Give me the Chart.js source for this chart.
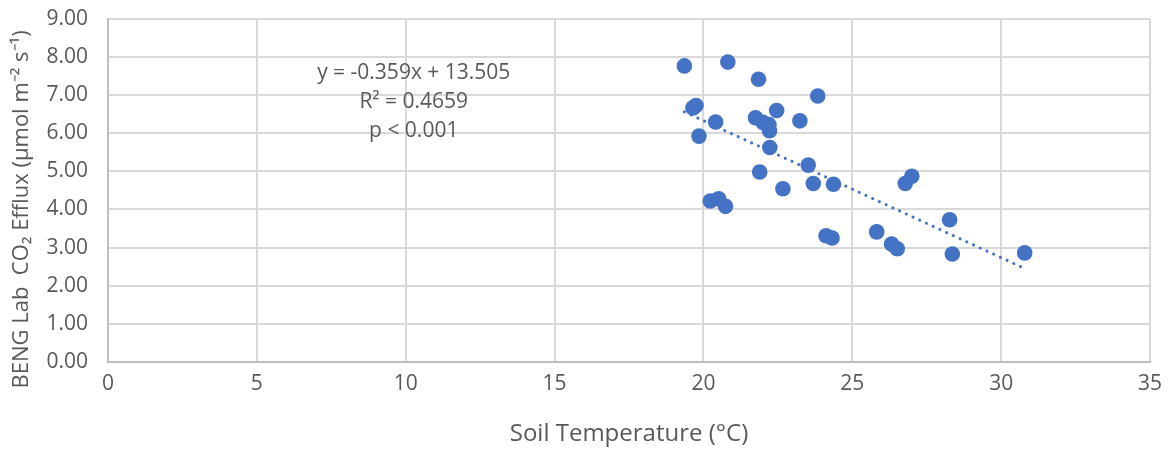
<!DOCTYPE html>
<html>
<head>
<meta charset="utf-8">
<script src="https://cdn.jsdelivr.net/npm/chart.js@4.4.1/dist/chart.umd.min.js"></script>
<style>
  html, body { margin: 0; padding: 0; background: #fff; overflow: hidden; }
  #wrap { width: 1171px; height: 450px; position: relative; overflow: hidden; }
  /* chart.js keeps ~14px more above the plot than Excel does, so pull the canvas up */
  #chart { position: absolute; left: 0; top: -14px; }
</style>
</head>
<body>
<div id="wrap"><canvas id="chart" width="1171" height="464"></canvas></div>
<script>
const soilTemp = [19.36, 20.82, 21.85, 23.84, 19.65, 19.75, 22.46, 20.41, 21.75, 22.0, 22.2, 22.22,
  23.24, 19.85, 22.23, 23.52, 21.89, 22.67, 23.69, 24.37, 27.0, 26.78, 20.23, 20.51, 20.74, 28.27,
  24.12, 24.32, 25.82, 26.32, 26.51, 28.36, 30.79];
const co2Efflux = [7.76, 7.86, 7.41, 6.97, 6.66, 6.72, 6.59, 6.29, 6.40, 6.28, 6.22, 6.06,
  6.32, 5.92, 5.62, 5.16, 4.98, 4.54, 4.68, 4.66, 4.87, 4.68, 4.22, 4.28, 4.08, 3.73,
  3.31, 3.25, 3.41, 3.09, 2.97, 2.83, 2.86];
const slope = -0.359;
const intercept = 13.505;
const labelLines = ['y = -0.359x + 13.505', 'R\u00B2 = 0.4659', 'p < 0.001'];
const yTitle = 'BENG Lab  CO\u2082 Efflux (\u00B5mol m\u207B\u00B2 s\u207B\u00B9)';

const points = soilTemp.map((x, i) => ({ x: x, y: co2Efflux[i] }));
const xMin = Math.min(...soilTemp);
const xMax = Math.max(...soilTemp);
const trend = [
  { x: xMin, y: slope * xMin + intercept },
  { x: xMax, y: slope * xMax + intercept }
];

const FONT = '"Open Sans", "Liberation Sans", sans-serif';
const GREY = '#595959';

// equation block + y axis title (Excel puts it a bit below the plot centre)
const extraText = {
  id: 'extraText',
  afterDraw(chart) {
    const ctx = chart.ctx;
    const xs = chart.scales.x, ys = chart.scales.y;
    ctx.save();
    ctx.font = '21px ' + FONT;
    ctx.fillStyle = GREY;
    ctx.textAlign = 'center';
    ctx.textBaseline = 'middle';
    const cx = xs.getPixelForValue(10.27);
    labelLines.forEach((t, i) => {
      ctx.fillText(t, cx, ys.getPixelForValue(7.57 - i * 0.76));
    });

    ctx.font = '22px ' + FONT;
    ctx.translate(22, ys.getPixelForValue(4.0));
    ctx.rotate(-Math.PI / 2);
    ctx.fillText(yTitle, 0, 0);
    ctx.restore();
  }
};

new Chart(document.getElementById('chart'), {
  type: 'scatter',
  data: {
    datasets: [
      {
        label: 'CO2 Efflux',
        data: points,
        backgroundColor: '#4472C4',
        borderWidth: 0,
        pointRadius: 7.8,
        pointHoverRadius: 7.8,
        order: 1
      },
      {
        label: 'Trend',
        type: 'line',
        data: trend,
        borderColor: '#4472C4',
        borderWidth: 3,
        borderDash: [0.1, 7.3],
        borderCapStyle: 'round',
        pointRadius: 0,
        fill: false,
        order: 0
      }
    ]
  },
  options: {
    responsive: false,
    animation: false,
    layout: { padding: { top: 18, right: 20, left: 0, bottom: 0 } },
    plugins: {
      legend: { display: false },
      tooltip: { enabled: false }
    },
    scales: {
      x: {
        type: 'linear',
        min: 0,
        max: 35,
        ticks: { stepSize: 5, color: GREY, font: { family: FONT, size: 21 }, padding: 9 },
        grid: { color: '#d9d9d9', lineWidth: 2, drawTicks: false },
        border: { color: '#bfbfbf', width: 2 },
        title: {
          display: true,
          text: 'Soil Temperature (\u00B0C)',
          color: GREY,
          font: { family: FONT, size: 24 },
          padding: { top: 4, bottom: 1 }
        },
        afterFit(scale) { scale.height = 88; }
      },
      y: {
        min: 0,
        max: 9,
        ticks: {
          stepSize: 1,
          color: GREY,
          font: { family: FONT, size: 21 },
          padding: 20,
          callback: v => v.toFixed(2)
        },
        grid: { color: '#d9d9d9', lineWidth: 2, drawTicks: false },
        border: { color: '#bfbfbf', width: 2 },
        afterFit(scale) { scale.width = 108; }
      }
    }
  },
  plugins: [extraText]
});
</script>
</body>
</html>
